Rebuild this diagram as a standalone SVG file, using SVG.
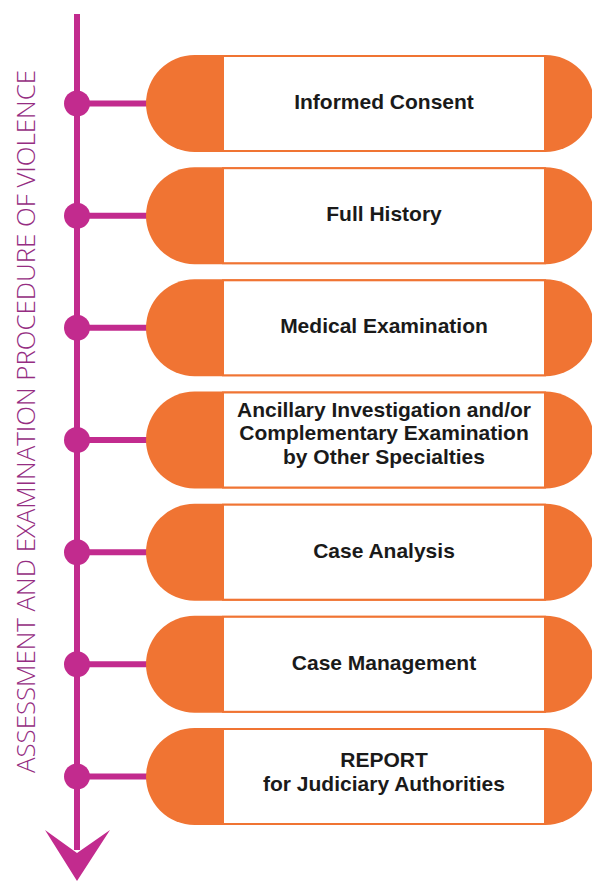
<svg xmlns="http://www.w3.org/2000/svg" width="592" height="881" viewBox="0 0 592 881">
<style>
.pill{fill:#f07433}
.box{fill:#ffffff;stroke:#f07433;stroke-width:2}
.lbl{font-family:"Liberation Sans",Arial,sans-serif;font-weight:700;font-size:21px;fill:#1a1a1a;text-anchor:middle}
.ax{stroke:#c22b8e;stroke-width:6;fill:none}
.dot{fill:#c22b8e}
.side{font-family:"Open Sans","Noto Sans",sans-serif;font-weight:300;font-size:26px;fill:#952d82;text-anchor:middle}
</style>
<rect width="592" height="881" fill="#ffffff"/>
<g id="connectors">
<line class="ax" x1="77" y1="14" x2="77" y2="850"/>
<polygon class="dot" points="45,830 77,853 110,830 77,881"/>
<line class="ax" x1="77" y1="103.5" x2="150" y2="103.5"/>
<line class="ax" x1="77" y1="215.7" x2="150" y2="215.7"/>
<line class="ax" x1="77" y1="327.8" x2="150" y2="327.8"/>
<line class="ax" x1="77" y1="440" x2="150" y2="440"/>
<line class="ax" x1="77" y1="552.2" x2="150" y2="552.2"/>
<line class="ax" x1="77" y1="664.3" x2="150" y2="664.3"/>
<line class="ax" x1="77" y1="776.5" x2="150" y2="776.5"/>
<circle class="dot" cx="77" cy="103.5" r="13"/>
<circle class="dot" cx="77" cy="215.7" r="13"/>
<circle class="dot" cx="77" cy="327.8" r="13"/>
<circle class="dot" cx="77" cy="440" r="13"/>
<circle class="dot" cx="77" cy="552.2" r="13"/>
<circle class="dot" cx="77" cy="664.3" r="13"/>
<circle class="dot" cx="77" cy="776.5" r="13"/>
</g>
<g id="axis-label">
<text class="side" transform="translate(35,421.5) rotate(-90)" textLength="703" lengthAdjust="spacingAndGlyphs">ASSESSMENT AND EXAMINATION PROCEDURE OF VIOLENCE</text>
</g>
<g id="step1">
<rect class="pill" x="146" y="55" width="448" height="97" rx="48.5"/>
<rect class="box" x="223" y="56" width="322" height="95"/>
<text class="lbl" x="384" y="108.5">Informed Consent</text>
</g>
<g id="step2">
<rect class="pill" x="146" y="167.2" width="448" height="97" rx="48.5"/>
<rect class="box" x="223" y="168.2" width="322" height="95"/>
<text class="lbl" x="384" y="221">Full History</text>
</g>
<g id="step3">
<rect class="pill" x="146" y="279.3" width="448" height="97" rx="48.5"/>
<rect class="box" x="223" y="280.3" width="322" height="95"/>
<text class="lbl" x="384" y="333">Medical Examination</text>
</g>
<g id="step4">
<rect class="pill" x="146" y="391.5" width="448" height="97" rx="48.5"/>
<rect class="box" x="223" y="392.5" width="322" height="95"/>
<text class="lbl" x="384" y="416.5">Ancillary Investigation and/or</text>
<text class="lbl" x="384" y="440">Complementary Examination</text>
<text class="lbl" x="384" y="463.5">by Other Specialties</text>
</g>
<g id="step5">
<rect class="pill" x="146" y="503.7" width="448" height="97" rx="48.5"/>
<rect class="box" x="223" y="504.7" width="322" height="95"/>
<text class="lbl" x="384" y="557.5">Case Analysis</text>
</g>
<g id="step6">
<rect class="pill" x="146" y="615.8" width="448" height="97" rx="48.5"/>
<rect class="box" x="223" y="616.8" width="322" height="95"/>
<text class="lbl" x="384" y="669.5">Case Management</text>
</g>
<g id="step7">
<rect class="pill" x="146" y="728" width="448" height="97" rx="48.5"/>
<rect class="box" x="223" y="729" width="322" height="95"/>
<text class="lbl" x="384" y="767">REPORT</text>
<text class="lbl" x="384" y="790.5">for Judiciary Authorities</text>
</g>
</svg>
